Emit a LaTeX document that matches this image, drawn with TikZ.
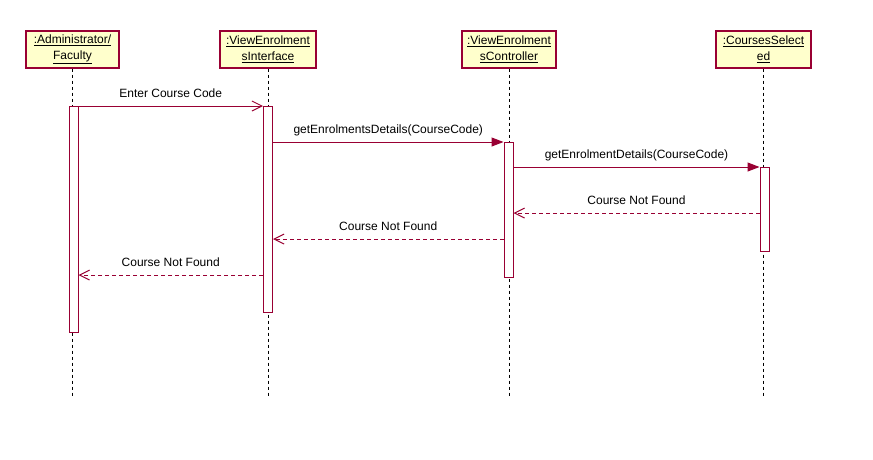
\documentclass[tikz,border=0pt]{standalone}
\usepackage{fontspec}
\setmainfont{Liberation Sans}
\usetikzlibrary{arrows.meta}
\definecolor{rose}{HTML}{990033}
\definecolor{headfill}{HTML}{FFFFCC}
\begin{document}
\begin{tikzpicture}[x=1pt,y=-1pt,
  every node/.style={font=\fontsize{12}{16}\selectfont},
  headbox/.style={draw=rose,line width=1.2pt,fill=headfill,rectangle,
    minimum height=37pt,inner sep=0pt,align=center},
  actbar/.style={draw=rose,line width=1pt,fill=white,rectangle,
    minimum width=9pt,inner sep=0pt},
  lifeline/.style={black,line width=0.9pt,dash pattern=on 3pt off 3pt},
  callmsg/.style={rose,line width=1pt,-{Triangle[length=12pt,width=9pt]}},
  sendmsg/.style={rose,line width=1pt,-{Straight Barb[length=10pt,width=10pt,line width=1pt]}},
  replymsg/.style={rose,line width=1pt,dash pattern=on 4pt off 3pt,
    -{Straight Barb[length=10pt,width=10pt,line width=1pt]}},
  msglabel/.style={black,midway,anchor=base,yshift=9pt,inner sep=0pt}]
\useasboundingbox[fill=white] (0,0) rectangle (873,459);

% object heads
\node[headbox,minimum width=93pt] (admin) at (72.5,49.5)
  {\underline{:Administrator/}\\\underline{Faculty}};
\node[headbox,minimum width=96pt] (ui) at (268,49.5)
  {\underline{:ViewEnrolment}\\\underline{sInterface}};
\node[headbox,minimum width=94pt] (ctrl) at (509,49.5)
  {\underline{:ViewEnrolment}\\\underline{sController}};
\node[headbox,minimum width=95pt] (sel) at (763.5,49.5)
  {\underline{:CoursesSelect}\\\underline{ed}};

% lifeline ends
\coordinate (bottom) at (0,396);
\draw[lifeline] (admin.south) -- (admin.south |- bottom);
\draw[lifeline] (ui.south) -- (ui.south |- bottom);
\draw[lifeline] (ctrl.south) -- (ctrl.south |- bottom);
\draw[lifeline] (sel.south) -- (sel.south |- bottom);

% activation bars
\node[actbar,minimum height=226pt] (a1) at (73.5,219) {};
\node[actbar,minimum height=206pt] (a2) at (268,209) {};
\node[actbar,minimum height=135pt] (a3) at (508.5,209.5) {};
\node[actbar,minimum height=84pt] (a4) at (764.5,209) {};

% message levels
\coordinate (m1) at (0,106);
\coordinate (m2) at (0,142);
\coordinate (m3) at (0,167);
\coordinate (m4) at (0,213);
\coordinate (m5) at (0,239);
\coordinate (m6) at (0,275);

\draw[sendmsg] (a1.east |- m1) -- (a2.west |- m1)
  node[msglabel] {Enter Course Code};
\draw[callmsg] (a2.east |- m2) -- (a3.west |- m2)
  node[msglabel] {getEnrolmentsDetails(CourseCode)};
\draw[callmsg] (a3.east |- m3) -- (a4.west |- m3)
  node[msglabel] {getEnrolmentDetails(CourseCode)};
\draw[replymsg] (a4.west |- m4) -- (a3.east |- m4)
  node[msglabel] {Course Not Found};
\draw[replymsg] (a3.west |- m5) -- (a2.east |- m5)
  node[msglabel] {Course Not Found};
\draw[replymsg] (a2.west |- m6) -- (a1.east |- m6)
  node[msglabel] {Course Not Found};
\end{tikzpicture}
\end{document}
